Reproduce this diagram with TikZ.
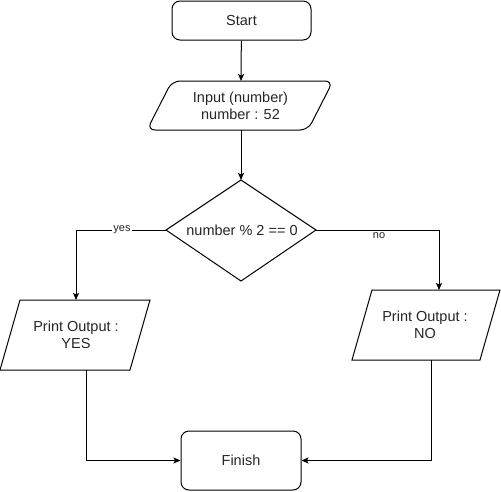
\documentclass[tikz,border=0pt]{standalone}
\usepackage{fontspec}
\setmainfont{Liberation Sans}
\usetikzlibrary{arrows.meta}
\definecolor{txt}{gray}{0.15}
\begin{document}
\begin{tikzpicture}[x=1pt,y=-1pt,
  every node/.style={font=\fontsize{14.5}{17}\selectfont, text=txt, align=center, inner sep=0pt},
  shp/.style={draw=black, line width=1pt, fill=white},
  rbox/.style={shp, rounded corners=8pt},
  arr/.style={line width=1pt, -{Stealth[length=7pt,width=6pt,inset=1.5pt]}},
  lbl/.style={font=\fontsize{11}{13}\selectfont, fill=white, inner sep=1pt}]
\useasboundingbox (0,0) rectangle (501,491);
% Start
\node[rbox, minimum width=139pt, minimum height=39pt] (start) at (241.5,20.5) {Start};
% Input
\draw[shp, rounded corners=8pt] (172,81) -- (333,81) -- (308,130) -- (147,130) -- cycle;
\node (input) at (240.5,106) {Input (number)\\number : 52};
\coordinate (inTop) at (241,81);
\coordinate (inBot) at (241,130);
% Decision
\draw[shp] (166,230) -- (241,180) -- (316,230) -- (241,281) -- cycle;
\node (dec) at (242,230) {number \% 2 == 0};
\coordinate (decT) at (241,180);
\coordinate (decL) at (166,230);
\coordinate (decR) at (316,230);
% Print YES
\draw[shp] (20,300) -- (150,300) -- (130,370) -- (0,370) -- cycle;
\node (yes) at (76,334.5) {Print Output :\\YES};
\coordinate (yesT) at (76,300);
\coordinate (yesB) at (86,370);
% Print NO
\draw[shp] (372,290) -- (500,290) -- (480,360) -- (352,360) -- cycle;
\node (no) at (425,324.5) {Print Output :\\NO};
\coordinate (noT) at (439,290);
\coordinate (noB) at (431,360);
% Finish
\node[rbox, minimum width=120pt, minimum height=59pt] (fin) at (241,460.5) {Finish};
% Connectors
\draw[arr] (start) -- (inTop);
\draw[arr] (inBot) -- (decT);
\draw[arr] (decL) -| (yesT);
\node[lbl] (ylab) at (122,230) {yes};
\draw[arr] (decR) -| (noT);
\node[lbl] (nlab) at (379,236) {no};
\draw[arr] (yesB) |- (fin.west);
\draw[arr] (noB) |- (fin.east);
\end{tikzpicture}
\end{document}
